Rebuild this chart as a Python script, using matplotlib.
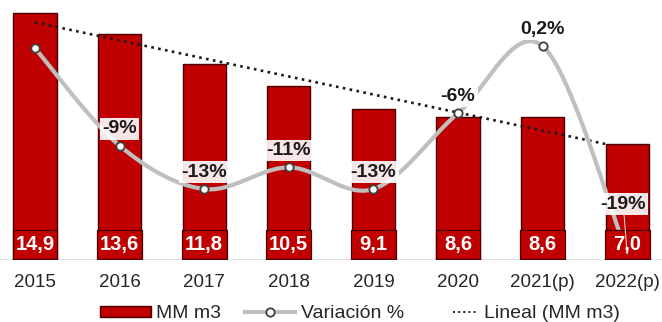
import numpy as np
import matplotlib
matplotlib.use("Agg")
import matplotlib.pyplot as plt
from matplotlib.patches import Rectangle
from matplotlib.lines import Line2D
from matplotlib.legend_handler import HandlerLine2D

plt.rcParams['font.family'] = ['Liberation Sans', 'DejaVu Sans']

# ---- data ----
years = ["2015", "2016", "2017", "2018", "2019", "2020", "2021(p)", "2022(p)"]
volume = [14.9, 13.6, 11.8, 10.5, 9.1, 8.6, 8.6, 7.0]          # MM m3
variation = [0.0, -9, -13, -11, -13, -6, 0.2, -19]              # %
variation_labels = [None, "-9%", "-13%", "-11%", "-13%", "-6%", "0,2%", "-19%"]
volume_labels = ["14,9", "13,6", "11,8", "10,5", "9,1", "8,6", "8,6", "7,0"]

BAR_RED = "#C00000"
BAR_EDGE = "#4a0000"
GREY_LINE = "#BFBFBF"

W, H, DPI = 662, 322, 100
fig = plt.figure(figsize=(W / DPI, H / DPI), dpi=DPI)
ax = fig.add_axes([0, (H - 260) / H, 1, 260 / H])
ax2 = ax.twinx()

x = np.arange(len(years))
bars = ax.bar(x, volume, width=0.51, color=BAR_RED, edgecolor=BAR_EDGE,
              linewidth=1.0, zorder=2)

step = 84.6
ax.set_xlim(-35 / step, (W - 35) / step)
ax.set_ylim(0, 260 / 16.6)
ax2.set_ylim(-19.55, 4.45)

# linear trend of the volume series
slope, intercept = np.polyfit(x, volume, 1)
xt = np.linspace(x[0], x[-1] - 0.26, 50)
ax.plot(xt, slope * xt + intercept, linestyle=":", color="#1a1a1a",
        linewidth=1.9, zorder=4)


# smoothed variation curve (cubic Bezier through the points)
def smooth(px, py, n=40):
    P = np.column_stack([px, py]).astype(float)
    P_ext = np.vstack([P[0], P, P[-1]])
    out = []
    for i in range(len(P) - 1):
        p0, p1, p2, p3 = P_ext[i], P_ext[i + 1], P_ext[i + 2], P_ext[i + 3]
        c1 = p1 + (p2 - p0) / 6
        c2 = p2 - (p3 - p1) / 6
        t = np.linspace(0, 1, n)[:, None]
        seg = ((1 - t) ** 3) * p1 + 3 * ((1 - t) ** 2) * t * c1 \
            + 3 * (1 - t) * t ** 2 * c2 + t ** 3 * p2
        out.append(seg if i == 0 else seg[1:])
    s = np.vstack(out)
    return s[:, 0], s[:, 1]


sx, sy = smooth(x, variation)
ax2.plot(sx, sy, color=GREY_LINE, linewidth=3, solid_capstyle="round", zorder=3)
ax2.plot(x, variation, linestyle="none", marker="o", markersize=6,
         markerfacecolor="white", markeredgecolor="#404040",
         markeredgewidth=1.3, zorder=5)

# variation labels
for i, (v, lab) in enumerate(zip(variation, variation_labels)):
    if lab is None:
        continue
    box = dict(boxstyle="square,pad=0.12", facecolor="white",
               edgecolor="none", alpha=0.9)
    if i == len(x) - 1:
        ax2.annotate(lab, xy=(x[i], v), xytext=(-4, 50),
                     textcoords="offset pixels", ha="center", va="center",
                     fontsize=14, fontweight="bold", color="#1a1a1a",
                     bbox=box, zorder=8,
                     arrowprops=dict(arrowstyle="-", color="#E6CACA",
                                     lw=0.8, shrinkA=0, shrinkB=0))
    else:
        ax2.annotate(lab, xy=(x[i], v), xytext=(0, 17),
                     textcoords="offset pixels", ha="center", va="center",
                     fontsize=14, fontweight="bold", color="#1a1a1a",
                     bbox=box, zorder=8)

# value boxes at the foot of each bar
box_h = 29 / 16.6
for b, lab in zip(bars, volume_labels):
    ax2.add_patch(Rectangle((b.get_x() - 0.01, 0.05), b.get_width() + 0.02, box_h,
                            transform=ax.transData, facecolor=BAR_RED,
                            edgecolor=BAR_EDGE, linewidth=0.9, zorder=7))
    ax2.text(b.get_x() + b.get_width() / 2, 0.05 + box_h / 2, lab,
             transform=ax.transData, ha="center", va="center", fontsize=14.5,
             fontweight="bold", color="white", zorder=9)

# axes styling
ax.set_xticks(x)
ax.set_xticklabels(years, fontsize=13.5, color="#262626")
ax.tick_params(axis="x", length=0, pad=10)
ax.set_yticks([])
ax2.set_yticks([])
for a in (ax, ax2):
    for side in ("top", "left", "right", "bottom"):
        a.spines[side].set_visible(False)
ax.axhline(0, color="#D9D9D9", linewidth=1.2, zorder=1)
ax.patch.set_visible(False)


class ShortLineHandler(HandlerLine2D):
    """Draws the legend line over the right half of the handle box only."""

    def create_artists(self, legend, orig_handle, xdescent, ydescent,
                       width, height, fontsize, trans):
        arts = super().create_artists(legend, orig_handle, xdescent, ydescent,
                                      width, height, fontsize, trans)
        for a in arts:
            xd = np.asarray(a.get_xdata(), dtype=float)
            yd = np.asarray(a.get_ydata(), dtype=float)
            if len(xd) > 1 and len(xd) == len(yd):
                a.set_data(np.linspace(xd.min() + width * 0.5, xd.max(), len(xd)), yd)
        return arts


h_bar = Rectangle((0, 0), 1, 1, facecolor=BAR_RED, edgecolor=BAR_EDGE, linewidth=1)
h_var = Line2D([], [], color=GREY_LINE, linewidth=3, marker="o", markersize=6,
               markerfacecolor="white", markeredgecolor="#404040",
               markeredgewidth=1.3)
h_trend = Line2D([], [], color="#1a1a1a", linestyle=":", linewidth=1.4)
fig.legend([h_bar, h_var, h_trend], ["MM m3", "Variación %", "Lineal (MM m3)"],
           loc="center", bbox_to_anchor=(360 / W, 8 / H), ncol=3, frameon=False,
           fontsize=14, handlelength=2.6, handleheight=0.5, handletextpad=0.3,
           columnspacing=1.2, borderpad=0, labelcolor="#262626",
           handler_map={h_trend: ShortLineHandler()})

fig.savefig("out.png", dpi=DPI)
